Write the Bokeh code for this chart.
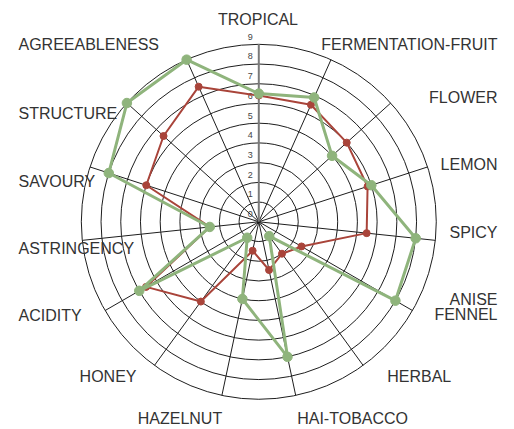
import math
from bokeh.plotting import figure
from bokeh.models import Range1d
from bokeh.embed import file_html
from bokeh.resources import INLINE
from bokeh.core.properties import value

# ---------------- data ----------------
categories = ["TROPICAL", "FERMENTATION-FRUIT", "FLOWER", "LEMON", "SPICY",
              "ANISE\nFENNEL", "HERBAL", "HAI-TOBACCO", "HAZELNUT", "HONEY",
              "ACIDITY", "ASTRINGENCY", "SAVOURY", "STRUCTURE", "AGREEABLENESS"]
series_red = [6.4, 6.5, 6.0, 5.8, 5.5, 2.5, 2.0, 2.5, 1.5, 5.0, 6.6, 2.5, 6.0, 6.5, 7.5]
series_green = [6.5, 6.9, 5.0, 6.0, 8.0, 8.0, 0.9, 7.0, 4.0, 1.0, 7.0, 2.5, 8.0, 9.0, 9.0]
tick_values = [0, 1, 2, 3, 4, 5, 6, 7, 8, 9]
tick_labels = ["0", "1", "2", "3", "4", "5", "6", "7", "8", "9"]
r_max = 9

# ---------------- layout ----------------
W, H = 514, 429
S = 19.72              # pixels per value unit
CX, CY = 258.3, 221.3  # centre in figure pixels
FONT = "Liberation Sans"
RED = "#a9443a"
GREEN = "#8fb47c"

# label anchors: pixel offsets from centre (dx right, dy down) and alignment
label_layout = [
    (-0.8, -202.3, "center"),
    (238.7, -177.3, "right"),
    (238.7, -124.3, "right"),
    (238.7, -57.3, "right"),
    (238.7, 10.4, "right"),
    (238.7, 85.4, "right"),
    (128.4, 154.7, "left"),
    (38.4, 197.0, "left"),
    (-36.6, 197.0, "right"),
    (-122.3, 154.7, "right"),
    (-240.3, 93.7, "left"),
    (-240.3, 26.2, "left"),
    (-240.3, -40.8, "left"),
    (-240.3, -108.8, "left"),
    (-240.3, -177.3, "left"),
]

p = figure(width=W, height=H, output_backend="svg", toolbar_location=None,
           x_range=Range1d(-CX / S, (W - CX) / S),
           y_range=Range1d(-(H - CY) / S, CY / S),
           min_border=0, x_axis_type=None, y_axis_type=None)
p.grid.visible = False
p.outline_line_color = None
p.background_fill_color = "white"

n = len(categories)
angles = [2 * math.pi * k / n for k in range(n)]

# rings
rings = tick_values[1:]
p.circle(x=[0] * len(rings), y=[0] * len(rings), radius=rings,
         fill_color=None, line_color="#1e1e1e", line_width=1)

# spokes
sx1 = [r_max * math.sin(a) for a in angles[1:]]
sy1 = [r_max * math.cos(a) for a in angles[1:]]
p.segment(x0=[0] * len(sx1), y0=[0] * len(sx1), x1=sx1, y1=sy1,
          line_color="#1e1e1e", line_width=1)
p.segment(x0=[0], y0=[0], x1=[0], y1=[r_max], line_color="#7a7a7a", line_width=2)

# tick labels
p.text(x=[-8.5 / S] * len(tick_values),
       y=[v + 7.7 / S for v in tick_values], text=tick_labels,
       text_font=value(FONT), text_font_size="9px", text_color="#444444",
       text_align="center", text_baseline="middle")

# series
def draw(vals, color, lw, size):
    xs = [v * math.sin(a) for v, a in zip(vals, angles)]
    ys = [v * math.cos(a) for v, a in zip(vals, angles)]
    p.line(xs + xs[:1], ys + ys[:1], line_color=color, line_width=lw, line_join="round")
    p.scatter(xs, ys, size=size, fill_color=color, line_color=color)

draw(series_red, RED, 2, 7)
draw(series_green, GREEN, 3, 9.5)

# category labels
for cat, (dx, dy, align) in zip(categories, label_layout):
    lines = cat.split("\n")
    nl = len(lines)
    for i, ln in enumerate(lines):
        off = (i - (nl - 1) / 2) * 15
        p.text(x=[dx / S], y=[-(dy + off) / S], text=[ln],
               text_font=value(FONT), text_font_size="16px", text_color="#333333",
               text_align=align, text_baseline="middle")

open("out.html", "w").write(file_html(p, INLINE))
